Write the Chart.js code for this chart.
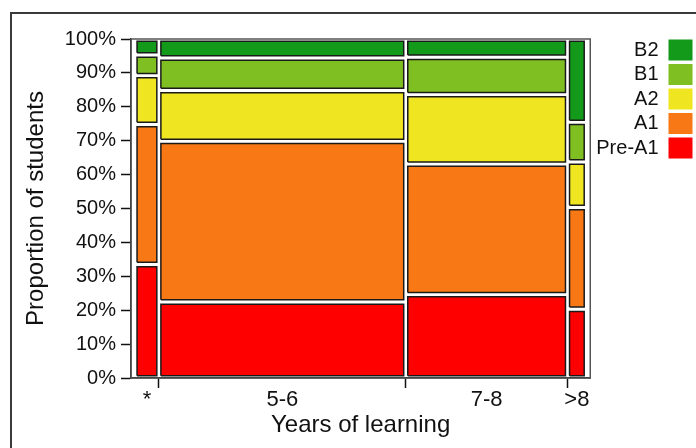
<!DOCTYPE html>
<html>
<head>
<meta charset="utf-8">
<script src="https://cdn.jsdelivr.net/npm/chart.js@4/dist/chart.umd.min.js"></script>
<style>
  html, body { margin: 0; padding: 0; background: #fff; overflow: hidden; }
  #wrap { position: relative; width: 696px; height: 448px; }
  #frame { position: absolute; left: 10px; top: 12px; width: 720px; height: 460px;
           border-left: 2px solid #3a3a3a; border-top: 2px solid #3a3a3a; }
  canvas { position: absolute; left: 0; top: 0; }
</style>
</head>
<body>
<div id="wrap">
  <div id="frame"></div>
  <canvas id="mosaic" width="696" height="448"></canvas>
</div>
<script>
// columns of the mosaic (years of learning) and how many students in each
const columns = ['*', '5-6', '7-8', '>8'];
const studentCounts = [14, 145, 95, 11];

// proficiency levels, bottom to top
const levels = ['Pre-A1', 'A1', 'A2', 'B1', 'B2'];
const levelColours = ['#fe0000', '#f77814', '#f0e521', '#80bf21', '#139a1b'];

// percentage of students at each level, one value per column
const preA1 = [33.5, 22.4, 24.6, 20.3];
const a1 = [41.3, 47.4, 38.5, 30.0];
const a2 = [14.4, 15.0, 20.5, 13.4];
const b1 = [6.1, 9.6, 11.0, 11.7];
const b2 = [4.7, 5.6, 5.4, 24.6];

const shares = [preA1, a1, a2, b1, b2];

document.addEventListener('DOMContentLoaded', function () {
    const total = studentCounts.reduce((s, v) => s + v, 0);
    const edges = [0];
    studentCounts.forEach(n => edges.push(edges[edges.length - 1] + n / total));
    const centers = columns.map((_, i) => (edges[i] + edges[i + 1]) / 2);
    const inner = edges.slice(1, -1);

    // white gap between tiles, in data units
    const gx = 0.0045, gy = 0.65;

    const datasets = [];
    for (let l = levels.length - 1; l >= 0; l--) {
        columns.forEach((col, c) => {
            let y0 = 0;
            for (let k = 0; k < l; k++) y0 += shares[k][c];
            const y1 = y0 + shares[l][c];
            const x0 = edges[c] + gx, x1 = edges[c + 1] - gx;
            datasets.push({
                label: levels[l],
                data: [
                    { x: x0, y: y0 + gy }, { x: x1, y: y0 + gy },
                    { x: x1, y: y1 - gy }, { x: x0, y: y1 - gy },
                    { x: x0, y: y0 + gy }
                ],
                showLine: true,
                fill: 'shape',
                backgroundColor: levelColours[l],
                borderColor: '#1a1a1a',
                borderWidth: 1.5,
                pointRadius: 0,
                tension: 0
            });
        });
    }

    const plotFrame = {
        id: 'plotFrame',
        beforeDatasetsDraw(chart) {
            const { ctx, chartArea: a } = chart;
            ctx.save();
            ctx.strokeStyle = '#555';
            ctx.lineWidth = 1.5;
            ctx.strokeRect(a.left, a.top, a.right - a.left, a.bottom - a.top);
            ctx.restore();
        }
    };

    // narrow the legend a little and lift it to line up with the top tile
    const legendTweak = {
        id: 'legendTweak',
        beforeInit(chart) {
            const fit = chart.legend.fit;
            chart.legend.fit = function () {
                fit.call(chart.legend);
                this.width -= 4;
            };
        },
        afterLayout(chart) {
            chart.legend.top -= 3;
        }
    };

    const isEdge = v => inner.some(e => Math.abs(e - v) < 1e-9);

    new Chart(document.getElementById('mosaic'), {
        type: 'scatter',
        data: { datasets: datasets },
        plugins: [plotFrame, legendTweak],
        options: {
            responsive: false,
            animation: false,
            events: [],
            layout: { padding: { top: 39, left: 0, right: 0, bottom: 0 } },
            scales: {
                x: {
                    type: 'linear',
                    min: -0.0089,
                    max: 1.0089,
                    afterBuildTicks(scale) {
                        scale.ticks = inner.concat(centers).sort((a, b) => a - b).map(v => ({ value: v }));
                    },
                    afterFit(scale) { scale.height = 70; },
                    ticks: {
                        autoSkip: false,
                        maxRotation: 0,
                        padding: -1,
                        color: '#111',
                        font: { family: 'Liberation Sans', size: 22 },
                        callback(v) {
                            const i = centers.findIndex(c => Math.abs(c - v) < 1e-9);
                            return i >= 0 ? columns[i] : '';
                        }
                    },
                    grid: {
                        drawOnChartArea: false,
                        tickLength: 10,
                        tickWidth: 1.5,
                        tickColor: ctx => (ctx.tick && isEdge(ctx.tick.value)) ? '#111' : 'rgba(0,0,0,0)'
                    },
                    border: { color: '#111', width: 1.5 },
                    title: {
                        display: true,
                        text: 'Years of learning',
                        color: '#111',
                        font: { family: 'Liberation Sans', size: 24 },
                        padding: { top: 0, bottom: 8 }
                    }
                },
                y: {
                    min: 0,
                    max: 100,
                    afterFit(scale) { scale.width = 131; },
                    ticks: {
                        stepSize: 10,
                        padding: 5,
                        color: '#111',
                        font: { family: 'Liberation Sans', size: 20 },
                        callback: v => v + '%'
                    },
                    grid: { drawOnChartArea: false, tickLength: 10, tickWidth: 1.5, tickColor: '#111' },
                    border: { color: '#111', width: 1.5 },
                    title: {
                        display: true,
                        text: 'Proportion of students',
                        color: '#111',
                        font: { family: 'Liberation Sans', size: 24 },
                        padding: { top: 22, bottom: 0 }
                    }
                }
            },
            plugins: {
                tooltip: { enabled: false },
                legend: {
                    position: 'right',
                    align: 'start',
                    rtl: true,
                    labels: {
                        boxWidth: 24,
                        boxHeight: 21,
                        padding: 3.5,
                        color: '#111',
                        font: { family: 'Liberation Sans', size: 20 },
                        generateLabels: () => levels.map((name, i) => ({
                            text: name,
                            fillStyle: levelColours[i],
                            strokeStyle: levelColours[i],
                            lineWidth: 0,
                            hidden: false,
                            fontColor: '#111'
                        })).reverse()
                    }
                }
            }
        }
    });
});
</script>
</body>
</html>
